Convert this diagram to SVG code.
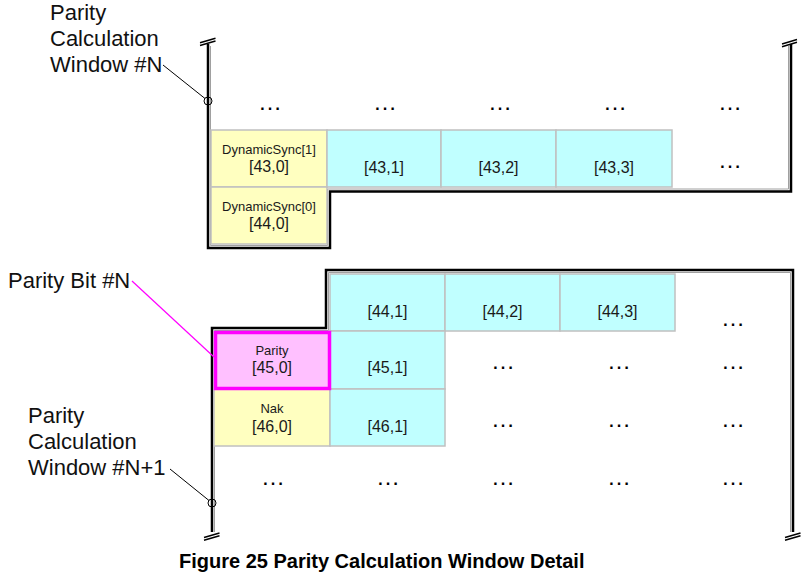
<svg xmlns="http://www.w3.org/2000/svg" width="812" height="579" viewBox="0 0 812 579">
<style>
.bg{fill:#ffffff}
.y{fill:#ffffc0;stroke:#c0c0c0;stroke-width:1.5}
.c{fill:#c0ffff;stroke:#c0c0c0;stroke-width:1.5}
.p{fill:#ffc0ff;stroke:#ff00ff;stroke-width:3.5}
.outline{fill:none;stroke:#000;stroke-width:2.5}
.shadow{fill:none;stroke:#a0a0a0;stroke-width:1}
.brk{fill:none;stroke:#000;stroke-width:1.5}
.lbl{font-family:"Liberation Sans",Arial,sans-serif;font-size:22px;fill:#111}
.sm{font-family:"Liberation Sans",Arial,sans-serif;font-size:13px;fill:#1a1a1a;text-anchor:middle}
.md{font-family:"Liberation Sans",Arial,sans-serif;font-size:16px;fill:#1a1a1a;text-anchor:middle}
.dots{font-family:"Liberation Sans",Arial,sans-serif;font-size:24px;fill:#000;text-anchor:middle}
.cap{font-family:"Liberation Sans",Arial,sans-serif;font-size:20px;font-weight:bold;fill:#000}
</style>
<rect class="bg" x="0" y="0" width="812" height="579"/>

<g id="window-n">
  <path class="shadow" d="M210.5,46 V245.5 H327.5 V189 H788.5 V46"/>
  <path class="outline" d="M208,44 V248 H330 V191.5 H791 V44"/>
  <line class="brk" x1="200" y1="42.7" x2="215.5" y2="38.2"/>
  <line class="brk" x1="200" y1="45.5" x2="215.5" y2="41"/>
  <line class="brk" x1="782" y1="44" x2="797" y2="39.5"/>
  <line class="brk" x1="782" y1="46.8" x2="797" y2="42.3"/>
</g>

<g id="window-n1">
  <path class="shadow" d="M214.5,532 V330.5 H328.5 V272.5 H790.5 V532"/>
  <path class="outline" d="M212,532 V328 H326 V270 H793 V532"/>
  <line class="brk" x1="204" y1="537.5" x2="219.5" y2="533"/>
  <line class="brk" x1="204" y1="540.3" x2="219.5" y2="535.8"/>
  <line class="brk" x1="785" y1="537.5" x2="800.5" y2="533"/>
  <line class="brk" x1="785" y1="540.3" x2="800.5" y2="535.8"/>
</g>

<g id="cell-43-0"><rect class="y" x="211" y="130" width="116" height="57"/><text class="sm" x="269" y="154">DynamicSync[1]</text><text class="md" x="269" y="172">[43,0]</text></g>
<g id="cell-44-0"><rect class="y" x="211" y="187" width="116" height="57"/><text class="sm" x="269" y="211">DynamicSync[0]</text><text class="md" x="269" y="229">[44,0]</text></g>
<g id="cell-43-1"><rect class="c" x="327" y="130" width="114" height="57"/><text class="md" x="384" y="173">[43,1]</text></g>
<g id="cell-43-2"><rect class="c" x="441" y="130" width="115" height="57"/><text class="md" x="498.5" y="173">[43,2]</text></g>
<g id="cell-43-3"><rect class="c" x="556" y="130" width="116" height="57"/><text class="md" x="614" y="173">[43,3]</text></g>

<g id="cell-44-1"><rect class="c" x="330" y="274" width="115" height="57"/><text class="md" x="387.5" y="317">[44,1]</text></g>
<g id="cell-44-2"><rect class="c" x="445" y="274" width="115" height="57"/><text class="md" x="502.5" y="317">[44,2]</text></g>
<g id="cell-44-3"><rect class="c" x="560" y="274" width="115" height="57"/><text class="md" x="617.5" y="317">[44,3]</text></g>
<g id="cell-45-1"><rect class="c" x="330" y="331" width="115" height="58"/><text class="md" x="387.5" y="373">[45,1]</text></g>
<g id="cell-46-0"><rect class="y" x="214" y="389" width="116" height="57"/><text class="sm" x="272" y="413">Nak</text><text class="md" x="272" y="432">[46,0]</text></g>
<g id="cell-46-1"><rect class="c" x="330" y="389" width="115" height="57"/><text class="md" x="387.5" y="432">[46,1]</text></g>
<g id="cell-45-0"><rect class="p" x="215.5" y="332.5" width="114" height="56"/><text class="sm" x="272" y="355">Parity</text><text class="md" x="272" y="373">[45,0]</text></g>

<g id="ellipses">
  <text class="dots" x="270" y="110">…</text>
  <text class="dots" x="385" y="110">…</text>
  <text class="dots" x="500" y="110">…</text>
  <text class="dots" x="615" y="110">…</text>
  <text class="dots" x="730" y="110">…</text>
  <text class="dots" x="730" y="168">…</text>
  <text class="dots" x="733" y="326">…</text>
  <text class="dots" x="503" y="369">…</text>
  <text class="dots" x="619" y="369">…</text>
  <text class="dots" x="733" y="369">…</text>
  <text class="dots" x="503" y="427">…</text>
  <text class="dots" x="619" y="427">…</text>
  <text class="dots" x="733" y="427">…</text>
  <text class="dots" x="273" y="485">…</text>
  <text class="dots" x="388" y="485">…</text>
  <text class="dots" x="503" y="485">…</text>
  <text class="dots" x="619" y="485">…</text>
  <text class="dots" x="733" y="485">…</text>
</g>

<g id="label-window-n">
  <text class="lbl" x="50" y="20">Parity</text>
  <text class="lbl" x="50" y="46">Calculation</text>
  <text class="lbl" x="50" y="72">Window #N</text>
</g>
<g id="label-parity-bit"><text class="lbl" x="8" y="288">Parity Bit #N</text></g>
<g id="label-window-n1">
  <text class="lbl" x="28" y="423">Parity</text>
  <text class="lbl" x="28" y="449">Calculation</text>
  <text class="lbl" x="28" y="475">Window #N+1</text>
</g>

<g id="connectors">
  <line x1="163" y1="65" x2="205" y2="98.5" stroke="#000" stroke-width="1"/>
  <circle cx="208" cy="101" r="4" fill="none" stroke="#000" stroke-width="1"/>
  <line x1="170" y1="469" x2="209" y2="500.5" stroke="#000" stroke-width="1"/>
  <circle cx="212" cy="503" r="4" fill="none" stroke="#000" stroke-width="1"/>
  <line x1="132" y1="281" x2="214" y2="357" stroke="#ff00ff" stroke-width="1.2"/>
</g>

<text class="cap" x="179" y="568">Figure 25 Parity Calculation Window Detail</text>
</svg>
